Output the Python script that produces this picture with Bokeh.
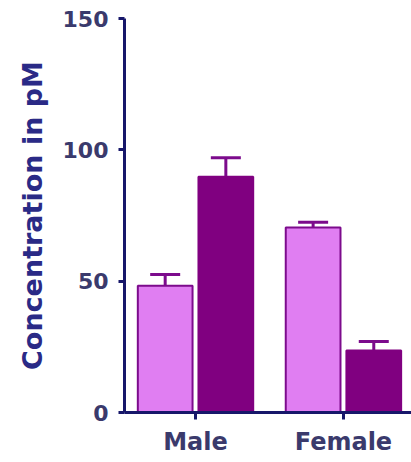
from bokeh.plotting import figure
from bokeh.models import ColumnDataSource, FixedTicker, Range1d, Whisker, TeeHead
from bokeh.embed import file_html
from bokeh.resources import INLINE

# Mean concentration (pM) per sex, two groups, with SEM
categories = ["Male", "Female"]
group_a_mean = [48.3, 70.4]
group_a_err = [4.2, 2.0]
group_b_mean = [89.8, 23.6]
group_b_err = [7.2, 3.4]
y_ticks = [0, 50, 100, 150]

light_fill = "#e07ef2"
dark_fill = "#800080"
edge = "#7c0b8c"
axis_col = "#17176a"
tick_lbl_col = "#3a3a6c"
title_col = "#2a2a86"
font = "DejaVu Sans"

offset = 0.205
bar_w = 0.37
idx = list(range(len(categories)))

src_a = ColumnDataSource(dict(
    x=[i - offset for i in idx], top=group_a_mean,
    upper=[m + e for m, e in zip(group_a_mean, group_a_err)]))
src_b = ColumnDataSource(dict(
    x=[i + offset for i in idx], top=group_b_mean,
    upper=[m + e for m, e in zip(group_b_mean, group_b_err)]))

p = figure(width=411, height=462, output_backend="svg", toolbar_location=None,
           x_range=Range1d(-0.48, 1.46), y_range=Range1d(0, 150),
           min_border_left=124, min_border_right=0, min_border_top=18,
           min_border_bottom=50)
p.outline_line_color = None
p.grid.visible = False
p.background_fill_color = "white"
p.border_fill_color = "white"

for src, fill in ((src_a, light_fill), (src_b, dark_fill)):
    w = Whisker(source=src, base="x", lower="top", upper="upper",
                line_color=edge, line_width=3, lower_head=None,
                upper_head=TeeHead(size=30, line_color=edge, line_width=3))
    p.add_layout(w)
    p.vbar(x="x", top="top", bottom=0, width=bar_w, source=src,
           fill_color=fill, line_color=edge if fill == light_fill else fill,
           line_width=2)

# y axis
p.yaxis.ticker = FixedTicker(ticks=y_ticks)
p.yaxis.minor_tick_line_color = None
p.yaxis.major_tick_out = 6
p.yaxis.major_tick_in = 0
p.yaxis.axis_label = "Concentration in pM"
p.yaxis.axis_label_text_font = font
p.yaxis.axis_label_text_font_style = "bold"
p.yaxis.axis_label_text_font_size = "27px"
p.yaxis.axis_label_text_color = title_col
p.yaxis.axis_label_standoff = 12
p.yaxis.major_label_text_font = font
p.yaxis.major_label_text_font_style = "bold"
p.yaxis.major_label_text_font_size = "22px"
p.yaxis.major_label_text_color = tick_lbl_col
p.yaxis.major_label_standoff = 10

# x axis with category labels
p.xaxis.ticker = FixedTicker(ticks=idx)
p.xaxis.major_label_overrides = {i: c for i, c in zip(idx, categories)}
p.xaxis.minor_tick_line_color = None
p.xaxis.major_tick_out = 7
p.xaxis.major_tick_in = 0
p.xaxis.major_label_text_font = font
p.xaxis.major_label_text_font_style = "bold"
p.xaxis.major_label_text_font_size = "24px"
p.xaxis.major_label_text_color = tick_lbl_col
p.xaxis.major_label_standoff = 8

for ax in (p.xaxis, p.yaxis):
    ax.axis_line_color = axis_col
    ax.axis_line_width = 3
    ax.major_tick_line_color = axis_col
    ax.major_tick_line_width = 3

open("out.html", "w").write(file_html(p, INLINE))
